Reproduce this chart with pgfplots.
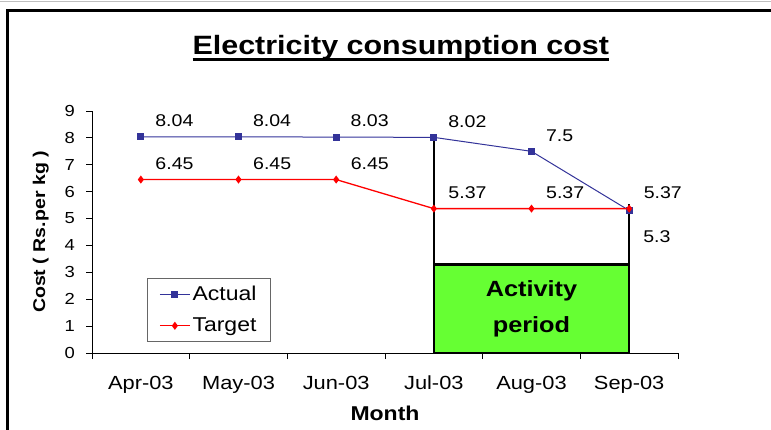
\documentclass[border=0pt]{standalone}
\usepackage{fontspec}
\setmainfont{Liberation Sans}[FakeStretch=1.15]
\usepackage{pgfplots}
\pgfplotsset{compat=1.18}
\definecolor{actualblue}{HTML}{333399}
\definecolor{targetred}{HTML}{FF0000}
\definecolor{actgreen}{HTML}{66FF33}
\newsavebox\titlebox
\newcommand\fs[2]{\fontsize{#1}{#2}\selectfont}
\begin{document}
\begin{tikzpicture}[x=1pt,y=1pt]
\begin{axis}[
  at={(92pt,-353pt)}, anchor=south west,
  scale only axis, width=586pt, height=242pt,
  xmin=-0.5, xmax=5.5, ymin=0, ymax=9,
  axis x line*=bottom, axis y line*=left,
  axis line style={black, line width=0.9pt},
  tick align=outside, major tick length=6pt,
  tick style={black, line width=0.9pt},
  /pgf/number format/assume math mode=true,
  xtick={-0.5,0.5,1.5,2.5,3.5,4.5},
  xticklabels={Apr-03,May-03,Jun-03,Jul-03,Aug-03,Sep-03},
  extra x ticks={5.5}, extra x tick labels={},
  xticklabel style={anchor=north, inner sep=0pt, xshift=48.83pt, yshift=-17pt, font=\fs{19}{22}},
  ytick={0,1,2,3,4,5,6,7,8,9},
  yticklabel style={anchor=east, inner sep=0pt, xshift=-11pt, font=\fs{16}{19}},
  title={\sbox\titlebox{\fs{26.5}{30}\bfseries Electricity consumption cost}\usebox\titlebox\llap{\rule[-7pt]{\wd\titlebox}{3.3pt}}},
  title style={at={(axis description cs:0.527,1.223)}, anchor=base, yshift=-3pt, inner sep=0pt},
  xlabel={\bfseries Month},
  xlabel style={at={(axis description cs:0.5,-0.277)}, anchor=base, inner sep=0pt, font=\fs{20}{24}},
  every axis y label/.style={at={(axis description cs:-0.080,0.5)}, anchor=base, rotate=90, inner sep=0pt, font=\fs{17}{20}},
  ylabel={\bfseries Cost ( Rs.per kg )},
  legend style={at={(axis description cs:0.0939,0.31)}, anchor=north west, draw=black!60, font=\fs{20}{23}, inner xsep=12pt, inner ysep=6pt, row sep=12pt, cells={anchor=west}},
  legend image code/.code={\draw[mark repeat=2,mark phase=2,#1] plot coordinates {(0pt,0pt) (15pt,0pt) (30pt,0pt)};},
  clip=false,
]
% activity period box and markers
\addplot[fill=actgreen, draw=black, line width=2.5pt, line join=miter, forget plot] coordinates {(3,0) (5,0) (5,3.3) (3,3.3) (3,0)};
\addplot[black, line width=2.5pt, forget plot] coordinates {(3,3.3) (3,8.02)};
\addplot[black, line width=2.5pt, forget plot] coordinates {(5,3.3) (5,5.55)};
% series
\addplot[actualblue, line width=1pt, mark=square*, mark size=3pt, forget plot,
  nodes near coords, point meta=explicit symbolic,
  every node near coord/.style={anchor=west, inner sep=0pt, xshift=14pt, yshift=16pt, font=\fs{17}{20}, text=black}]
  coordinates {(0,8.04)[8.04] (1,8.04)[8.04] (2,8.03)[8.03] (3,8.02)[8.02] (4,7.5)[7.5] (5,5.3)[]};
\addplot[targetred, line width=1.3pt, mark=diamond*, mark size=3pt, forget plot,
  nodes near coords, point meta=explicit symbolic,
  every node near coord/.style={anchor=west, inner sep=0pt, xshift=14pt, yshift=16pt, font=\fs{17}{20}, text=black}]
  coordinates {(0,6.45)[6.45] (1,6.45)[6.45] (2,6.45)[6.45] (3,5.37)[5.37] (4,5.37)[5.37] (5,5.37)[5.37]};
\addplot[draw=none, forget plot, nodes near coords, point meta=explicit symbolic,
  every node near coord/.style={anchor=west, inner sep=0pt, xshift=14pt, yshift=-26pt, font=\fs{17}{20}, text=black}]
  coordinates {(5,5.3)[5.3]};
\addlegendimage{actualblue, line width=1pt, mark=square*, mark size=3pt}
\addlegendentry{Actual}
\addlegendimage{targetred, line width=1.3pt, mark=diamond*, mark size=3pt}
\addlegendentry{Target}
\node[font=\fs{22}{36}\bfseries, align=center] at (axis cs:4,1.64) {Activity\\period};
\end{axis}
\draw[black!25, line width=1pt] (0,-1.5) -- (771,-1.5);
\draw[black, line width=3pt] (7,-440) -- (7,-10.5) -- (790,-10.5);
\pgfresetboundingbox
\path[use as bounding box] (0,0) rectangle (771,-430);
\end{tikzpicture}
\end{document}
